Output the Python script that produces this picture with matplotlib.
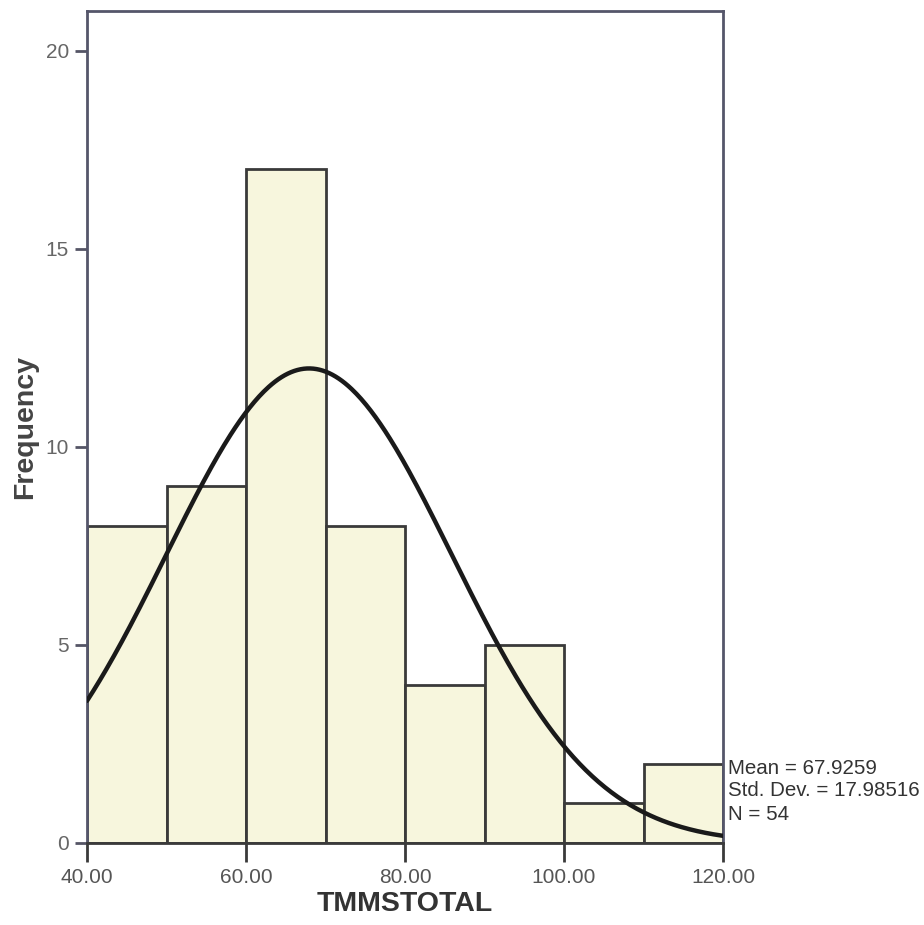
import numpy as np
import matplotlib
matplotlib.use("Agg")
import matplotlib.pyplot as plt

bin_edges = [40, 50, 60, 70, 80, 90, 100, 110, 120]
counts = [8, 9, 17, 8, 4, 5, 1, 2]
mean_val = 67.9259
sd_val = 17.98516
n_val = 54
xticks = [40, 60, 80, 100, 120]
xtick_labels = ["40.00", "60.00", "80.00", "100.00", "120.00"]
yticks = [0, 5, 10, 15, 20]

plt.rcParams['font.family'] = ['Liberation Sans', 'DejaVu Sans']

fig = plt.figure(figsize=(9.24, 9.25), dpi=100)
W, H = 924, 925
ax = fig.add_axes([87 / W, 1 - 843 / H, (723 - 87) / W, (843 - 11) / H])

widths = np.diff(bin_edges)
ax.bar(bin_edges[:-1], counts, width=widths, align='edge',
       color='#f7f6dd', edgecolor='#3a3a3a', linewidth=2, zorder=2)

xs = np.linspace(40, 120, 400)
binw = widths[0]
ys = n_val * binw / (sd_val * np.sqrt(2 * np.pi)) * np.exp(-0.5 * ((xs - mean_val) / sd_val) ** 2)
ax.plot(xs, ys, color='#1a1a1a', linewidth=3.2, zorder=3, solid_capstyle='round')

ax.set_xlim(40, 120)
ax.set_ylim(0, 21)
ax.set_xticks(xticks)
ax.set_xticklabels(xtick_labels)
ax.set_yticks(yticks)

for s in ax.spines.values():
    s.set_color('#55566a')
    s.set_linewidth(2)
ax.spines['bottom'].set_color('#3a3a3a')

ax.tick_params(axis='x', direction='out', length=14, width=2, color='#3a3a3a',
               labelsize=15, labelcolor='#555555', pad=4)
ax.tick_params(axis='y', direction='out', length=9, width=2, color='#555566',
               labelsize=15, labelcolor='#666666', pad=4)

ax.set_xlabel('TMMSTOTAL', fontsize=20.5, fontweight='bold', color='#333333', labelpad=3)
ax.set_ylabel('Frequency', fontsize=20.5, fontweight='bold', color='#444444', labelpad=5)

fig.text(728 / W, 1 - 768 / H, f"Mean = {mean_val}", fontsize=14.8, color='#333333', va='center', ha='left')
fig.text(728 / W, 1 - 791 / H, f"Std. Dev. = {sd_val}", fontsize=14.8, color='#333333', va='center', ha='left')
fig.text(728 / W, 1 - 814 / H, f"N = {n_val}", fontsize=14.8, color='#333333', va='center', ha='left')

fig.savefig('out.png', dpi=100, facecolor='white')
